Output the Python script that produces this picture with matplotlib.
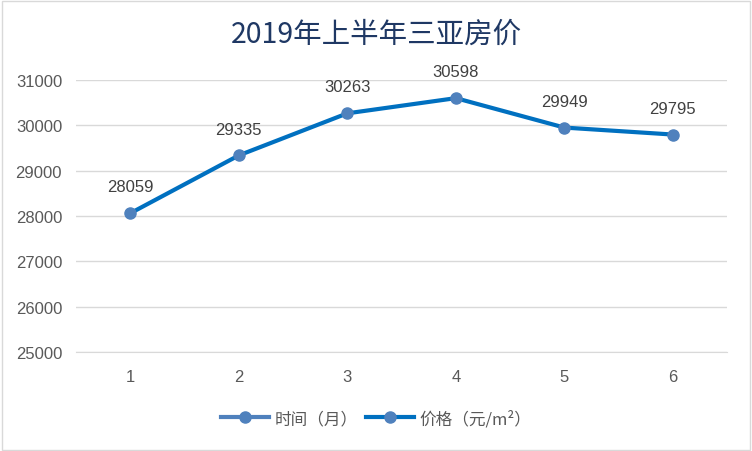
import matplotlib.pyplot as plt
from matplotlib.patches import Rectangle

plt.rcParams['font.family'] = ['Noto Sans CJK SC', 'DejaVu Sans']

# data
months = [1, 2, 3, 4, 5, 6]
prices = [28059, 29335, 30263, 30598, 29949, 29795]
title = "2019年上半年三亚房价"
series_names = ["时间（月）", "价格（元/m²）"]

fig = plt.figure(figsize=(7.52, 4.52), dpi=100)
ax = fig.add_axes([0.101, 0.219, 0.866, 0.602])

x = range(len(months))
# the month series sits far below the value axis, so only its legend shows
ax.plot(x, months, color="#4F81BD", lw=3, marker="o", ms=8,
        label=series_names[0])
ax.plot(x, prices, color="#0070C0", lw=3, marker="o", ms=8,
        mfc="#4F81BD", mec="#4F81BD", label=series_names[1])

for i, v in zip(x, prices):
    ax.annotate(str(v), (i, v), xytext=(0, 19), textcoords="offset points",
                ha="center", va="center", fontsize=12, color="#404040",
                family=["Liberation Sans", "DejaVu Sans"])

ax.set_ylim(25000, 31000)
ax.set_yticks(range(25000, 31001, 1000))
ax.set_xlim(-0.5, len(months) - 0.5)
ax.set_xticks(list(x))
ax.set_xticklabels([str(m) for m in months])
for lab in ax.get_xticklabels() + ax.get_yticklabels():
    lab.set_family(["Liberation Sans", "DejaVu Sans"])
    lab.set_fontsize(12)
    lab.set_color("#595959")
ax.tick_params(axis="y", length=0, pad=10)
ax.tick_params(axis="x", length=0, pad=12)
ax.grid(axis="y", color="#D9D9D9", lw=1)
ax.set_axisbelow(True)
for s in ["left", "right", "top"]:
    ax.spines[s].set_visible(False)
ax.spines["bottom"].set_color("#D9D9D9")

fig.text(0.5, 0.923, title, ha="center", va="center", fontsize=20.5,
         color="#1F3864")

leg = fig.legend(loc="center", bbox_to_anchor=(0.5, 0.072), ncol=2,
                 frameon=False, fontsize=12, handlelength=2.9,
                 columnspacing=0.5, handletextpad=0.3)
for t in leg.get_texts():
    t.set_color("#595959")

fig.patches.append(Rectangle((0.002, 0.003), 0.995, 0.993, transform=fig.transFigure,
                             fill=False, edgecolor="#D9D9D9", lw=1))

fig.savefig("out.png", dpi=100)
